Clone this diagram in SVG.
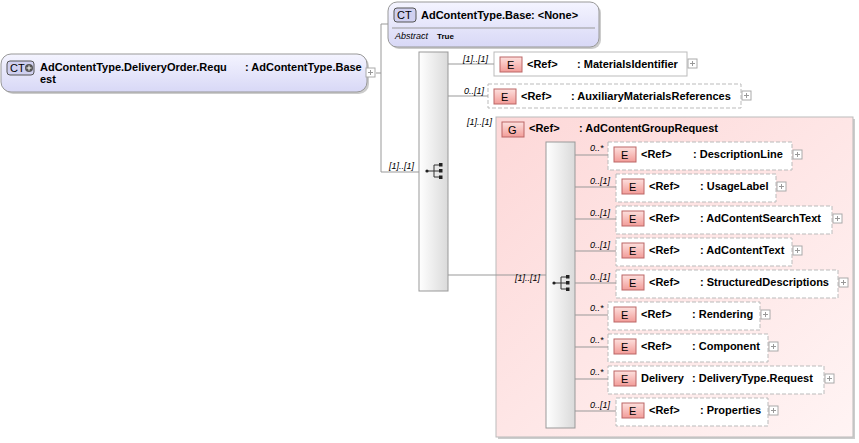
<svg xmlns="http://www.w3.org/2000/svg" width="859" height="443" viewBox="0 0 859 443">
<defs>
<linearGradient id="ct" x1="0" y1="0" x2="0" y2="1"><stop offset="0" stop-color="#f4f4ff"/><stop offset="1" stop-color="#d8d8f6"/></linearGradient>
<linearGradient id="eb" x1="0" y1="0" x2="0" y2="1"><stop offset="0" stop-color="#fde0de"/><stop offset="1" stop-color="#f29c98"/></linearGradient>
<linearGradient id="grp" x1="0" y1="0" x2="1" y2="1"><stop offset="0" stop-color="#fdd8d8"/><stop offset="1" stop-color="#fff4f4"/></linearGradient>
<linearGradient id="seq" x1="0" y1="0" x2="1" y2="0"><stop offset="0" stop-color="#ffffff"/><stop offset="1" stop-color="#dadada"/></linearGradient>
<g id="seqicon"><path d="M-7 0H0M0 -6V6M0 -6H6M0 0H6M0 6H6" stroke="#333" fill="none"/><circle cx="-7" cy="0" r="1.6" fill="#222"/><rect x="5" y="-8" width="3.5" height="3.5" fill="#222"/><rect x="5" y="-2" width="3.5" height="3.5" fill="#222"/><rect x="5" y="4.5" width="3.5" height="3.5" fill="#222"/></g>
<g id="plus"><rect x="0" y="0" width="9" height="9" fill="#fff" stroke="#aaa"/><path d="M2 4.5H7M4.5 2V7" stroke="#999"/></g>
</defs>
<style>
text{font-family:"Liberation Sans",Arial,sans-serif;font-size:11px;fill:#000}
.b{font-weight:bold}
.i{font-style:italic;font-size:9px}
.ln{stroke:#999;fill:none}
.el1{fill:#fff;stroke:#bbb}
.el0{fill:#fff;stroke:#bbb;stroke-dasharray:4 2}
.badge{fill:url(#eb);stroke:#b66}
.sh{fill:#ccc}
</style>
<g id="root">
<rect x="3" y="56" width="366" height="38" rx="10" class="sh"/>
<rect x="1" y="54" width="366" height="38" rx="10" fill="url(#ct)" stroke="#999"/>
<rect x="7" y="61" width="27" height="14" rx="3" fill="#d0d0f0" stroke="#555"/>
<text x="10" y="72">CT</text><circle cx="29" cy="68" r="4" fill="#555"/><path d="M26.5 68H31.5M29 65.5V70.5" stroke="#fff"/>
<text class="b" x="40" y="71">AdContentType.DeliveryOrder.Requ</text>
<text class="b" x="40" y="83">est</text>
<text class="b" x="245" y="71">: AdContentType.Base</text>
<use href="#plus" x="366" y="68"/>
</g>
<g id="base">
<rect x="390" y="4" width="211" height="45" rx="9" class="sh"/>
<rect x="388" y="2" width="211" height="45" rx="9" fill="url(#ct)" stroke="#999"/>
<line x1="392" y1="28" x2="595" y2="28" stroke="#999"/>
<rect x="394" y="8" width="22" height="14" rx="3" fill="#d0d0f0" stroke="#555"/>
<text x="397" y="19">CT</text>
<text class="b" x="421" y="19">AdContentType.Base</text>
<text class="b" x="531" y="19">: &lt;None&gt;</text>
<text class="i" x="395" y="39">Abstract</text><text x="437" y="39" style="font-size:8px;font-weight:bold">True</text>
</g>
<g id="seq1">
<rect x="419" y="52" width="29" height="239" fill="url(#seq)" stroke="#999"/>
<use href="#seqicon" x="434" y="171"/>
</g>
<g id="materials">
<rect x="494" y="52" width="193" height="24" class="el1"/>
<rect x="500" y="57" width="22" height="15" class="badge"/><text x="507" y="69">E</text>
<text class="b" x="527" y="68">&lt;Ref&gt;</text><text class="b" x="577" y="68">: MaterialsIdentifier</text>
<use href="#plus" x="688" y="59"/>
</g>
<g id="aux">
<rect x="488" y="84" width="253" height="24" class="el0"/>
<rect x="494" y="89" width="22" height="15" class="badge"/><text x="501" y="101">E</text>
<text class="b" x="521" y="100">&lt;Ref&gt;</text><text class="b" x="571" y="100">: AuxiliaryMaterialsReferences</text>
<use href="#plus" x="742" y="91"/>
</g>
<g id="group">
<rect x="498" y="119" width="357" height="320" class="sh"/>
<rect x="496" y="117" width="357" height="320" fill="url(#grp)" stroke="#bbb"/>
<rect x="502" y="122" width="22" height="15" class="badge"/><text x="508" y="134">G</text>
<text class="b" x="529" y="132">&lt;Ref&gt;</text><text class="b" x="579" y="132">: AdContentGroupRequest</text>
<rect x="546" y="142" width="29" height="286" fill="url(#seq)" stroke="#999"/>
<use href="#seqicon" x="561" y="283"/>
</g>
<g id="descline"><rect x="608" y="142" width="184" height="28" class="el0"/><rect x="614" y="147" width="22" height="15" class="badge"/><text x="621" y="159">E</text><text class="b" x="641" y="158">&lt;Ref&gt;</text><text class="b" x="693" y="158">: DescriptionLine</text><use href="#plus" x="793" y="150"/></g>
<g id="usage"><rect x="616" y="174" width="160" height="28" class="el0"/><rect x="622" y="179" width="22" height="15" class="badge"/><text x="629" y="191">E</text><text class="b" x="649" y="190">&lt;Ref&gt;</text><text class="b" x="700" y="190">: UsageLabel</text><use href="#plus" x="777" y="182"/></g>
<g id="search"><rect x="616" y="206" width="216" height="28" class="el0"/><rect x="622" y="211" width="22" height="15" class="badge"/><text x="629" y="223">E</text><text class="b" x="649" y="222">&lt;Ref&gt;</text><text class="b" x="700" y="222">: AdContentSearchText</text><use href="#plus" x="833" y="214"/></g>
<g id="adtext"><rect x="616" y="238" width="176" height="28" class="el0"/><rect x="622" y="243" width="22" height="15" class="badge"/><text x="629" y="255">E</text><text class="b" x="649" y="254">&lt;Ref&gt;</text><text class="b" x="700" y="254">: AdContentText</text><use href="#plus" x="793" y="246"/></g>
<g id="structured"><rect x="616" y="270" width="222" height="28" class="el0"/><rect x="622" y="275" width="22" height="15" class="badge"/><text x="629" y="287">E</text><text class="b" x="649" y="286">&lt;Ref&gt;</text><text class="b" x="700" y="286">: StructuredDescriptions</text><use href="#plus" x="839" y="278"/></g>
<g id="rendering"><rect x="608" y="302" width="152" height="28" class="el0"/><rect x="614" y="307" width="22" height="15" class="badge"/><text x="621" y="319">E</text><text class="b" x="641" y="318">&lt;Ref&gt;</text><text class="b" x="692" y="318">: Rendering</text><use href="#plus" x="761" y="310"/></g>
<g id="component"><rect x="608" y="334" width="160" height="28" class="el0"/><rect x="614" y="339" width="22" height="15" class="badge"/><text x="621" y="351">E</text><text class="b" x="641" y="350">&lt;Ref&gt;</text><text class="b" x="692" y="350">: Component</text><use href="#plus" x="769" y="342"/></g>
<g id="delivery"><rect x="608" y="366" width="216" height="28" class="el0"/><rect x="614" y="371" width="22" height="15" class="badge"/><text x="621" y="383">E</text><text class="b" x="641" y="382">Delivery</text><text class="b" x="692" y="382">: DeliveryType.Request</text><use href="#plus" x="825" y="374"/></g>
<g id="properties"><rect x="616" y="398" width="152" height="28" class="el0"/><rect x="622" y="403" width="22" height="15" class="badge"/><text x="629" y="415">E</text><text class="b" x="649" y="414">&lt;Ref&gt;</text><text class="b" x="700" y="414">: Properties</text><use href="#plus" x="769" y="406"/></g>
<g id="connectors">
<path class="ln" d="M376 73H381M381 24V172M381 24H388M381 172H419"/>
<path class="ln" d="M448 64H494M448 96H488M448 275H546"/>
<path class="ln" d="M575 155H608M575 187H616M575 219H616M575 251H616M575 283H616M575 315H608M575 347H608M575 379H608M575 411H616"/>
<text class="i" x="389" y="169">[1]..[1]</text>
<text class="i" x="463" y="62">[1]..[1]</text>
<text class="i" x="464" y="94">0..[1]</text>
<text class="i" x="467" y="125">[1]..[1]</text>
<text class="i" x="515" y="281">[1]..[1]</text>
<text class="i" x="590" y="151">0..*</text>
<text class="i" x="590" y="184">0..[1]</text>
<text class="i" x="590" y="216">0..[1]</text>
<text class="i" x="590" y="248">0..[1]</text>
<text class="i" x="590" y="280">0..[1]</text>
<text class="i" x="590" y="311">0..*</text>
<text class="i" x="590" y="343">0..*</text>
<text class="i" x="590" y="375">0..*</text>
<text class="i" x="590" y="408">0..[1]</text>
</g>
</svg>
